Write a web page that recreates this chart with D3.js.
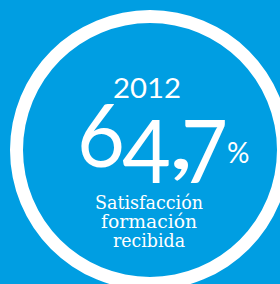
<!DOCTYPE html>
<html>
<head>
<meta charset="utf-8">
<script src="https://cdn.jsdelivr.net/npm/d3@7"></script>
<style>
  html, body { margin: 0; padding: 0; background: #009ee2; }
  #chart { width: 280px; height: 284px; }
</style>
</head>
<body>
<div id="chart"></div>
<script>
const years = ['2012'];
const values = [64.7];
const labelLines = ['Satisfacción', 'formación', 'recibida'];

const width = 280;
const height = 284;
const blue = '#009ee2';

const svg = d3.select('#chart')
  .append('svg')
  .attr('width', width)
  .attr('height', height);

svg.append('rect')
  .attr('width', width)
  .attr('height', height)
  .attr('fill', blue);

const cx = 150, cy = 150;

// full ring
const arc = d3.arc()
  .innerRadius(127)
  .outerRadius(140)
  .startAngle(0)
  .endAngle(2 * Math.PI);

const g = svg.append('g').attr('transform', `translate(${cx},${cy})`);

g.append('path')
  .attr('d', arc())
  .attr('fill', '#fff');

g.append('text')
  .attr('x', -3)
  .attr('y', -52)
  .attr('text-anchor', 'middle')
  .attr('font-family', 'Lato, sans-serif')
  .attr('font-size', 27)
  .attr('fill', '#fff')
  .attr('textLength', 68)
  .attr('lengthAdjust', 'spacingAndGlyphs')
  .text(years[0]);

const fmt = v => d3.format('.1f')(v).replace('.', ',');

// one text per glyph; old-style figures: 4 and 7 drop below the baseline
const chars = fmt(values[0]).split('');
const charX = [-73, -28, 18, 31];
const charW = [48, 49, 26, 47];
const isLow = d => d === '4' || d === '7';

g.selectAll('.digit')
  .data(chars)
  .enter()
  .append('text')
  .attr('class', 'digit')
  .attr('x', (d, i) => charX[i])
  .attr('y', d => isLow(d) ? 33 : (d === ',' ? 19 : 17))
  .attr('font-family', 'Lato, sans-serif')
  .attr('font-weight', 400)
  .attr('font-size', 88)
  .attr('fill', '#fff')
  .attr('textLength', (d, i) => charW[i])
  .attr('lengthAdjust', 'spacingAndGlyphs')
  .text(d => d);

g.append('text')
  .attr('x', 77)
  .attr('y', 13)
  .attr('font-family', 'Lato, sans-serif')
  .attr('font-size', 28)
  .attr('fill', '#fff')
  .text('%');

const lineY = [59, 78, 97];
const lineW = [108, 96, 72];

g.selectAll('.label')
  .data(labelLines)
  .enter()
  .append('text')
  .attr('class', 'label')
  .attr('x', -1)
  .attr('y', (d, i) => lineY[i])
  .attr('text-anchor', 'middle')
  .attr('font-family', '"DejaVu Serif", serif')
  .attr('font-size', 19)
  .attr('fill', '#fff')
  .attr('textLength', (d, i) => lineW[i])
  .attr('lengthAdjust', 'spacingAndGlyphs')
  .text(d => d);
</script>
</body>
</html>
